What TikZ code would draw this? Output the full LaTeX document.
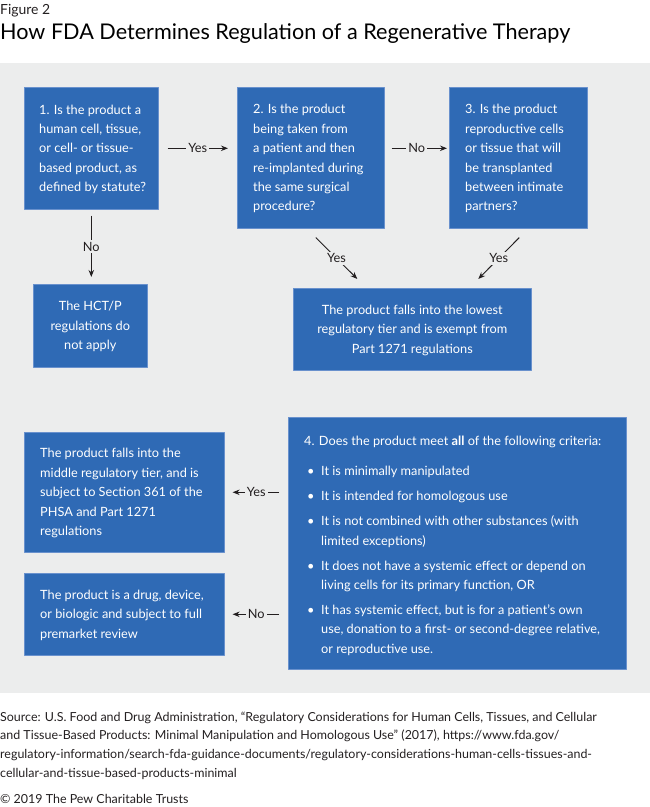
\documentclass[tikz,border=0pt]{standalone}
\usepackage{fontspec}
\setmainfont{Lato}
\usetikzlibrary{arrows.meta,calc}

\definecolor{panelgray}{RGB}{236,237,237}
\definecolor{boxblue}{RGB}{47,106,181}
\definecolor{boxedge}{RGB}{105,145,205}
\definecolor{inkgray}{RGB}{35,31,32}

\newcommand{\critbul}{\makebox[17bp][l]{\hspace{3bp}\textbullet}}
\newcommand{\critind}{\hspace*{17bp}}

\tikzset{
  qbox/.style={draw=boxedge, line width=0.6bp, fill=boxblue,
    anchor=north west, inner sep=0bp},
  boxtext/.style={text=white, inner sep=0bp, align=left, anchor=west,
    font=\fontsize{12.8}{19.5}\selectfont},
  ctrtext/.style={boxtext, align=center, anchor=center},
  edgelbl/.style={fill=panelgray, text=inkgray, inner sep=2bp,
    font=\fontsize{12.8}{15}\selectfont},
  edge/.style={draw=inkgray, line width=1bp, ->},
}

\begin{document}
\begin{tikzpicture}[>={Stealth[length=7bp,width=5.5bp]},line join=bevel]
  \useasboundingbox (0bp,0bp) rectangle (650bp,807bp);
%%
  % Title
  \node[anchor=base west, inner sep=0bp, text=inkgray, font=\fontsize{14}{16}\selectfont] (fig) at (0bp,792bp) {Figure 2};
  \node[anchor=base west, inner sep=0bp, text=black, font=\fontsize{21.7}{26}\selectfont] (title) at (0bp,767bp) {How FDA Determines Regulation of a Regenerative Therapy};
  % Panel
  \fill[panelgray] (0bp,114bp) rectangle (650bp,744bp);
  % Node: q1
  \node[qbox, minimum width=134bp, minimum height=122bp] (q1) at (24bp,720bp) {};
  \node[boxtext] (q1t) at ([xshift=15bp,yshift=-1bp]q1.west)
    {1. Is the product a\\human cell, tissue,\\or cell- or tissue-\\based product, as\\defined by statute?};
  % Node: q2
  \node[qbox, minimum width=147bp, minimum height=141bp] (q2) at (237bp,720bp) {};
  \node[boxtext] (q2t) at ([xshift=16bp,yshift=-1bp]q2.west)
    {2. Is the product\\being taken from\\a patient and then\\re-implanted during\\the same surgical\\procedure?};
  % Node: q3
  \node[qbox, minimum width=138bp, minimum height=141bp] (q3) at (449bp,720bp) {};
  \node[boxtext] (q3t) at ([xshift=16bp,yshift=-1bp]q3.west)
    {3. Is the product\\reproductive cells\\or tissue that will\\be transplanted\\between intimate\\partners?};
  % Node: hctp
  \node[qbox, minimum width=114bp, minimum height=83bp] (hctp) at (33bp,523bp) {};
  \node[ctrtext] (hctpt) at ([yshift=-1bp]hctp.center) {The HCT/P\\regulations do\\not apply};
  % Node: lowtier
  \node[qbox, minimum width=238bp, minimum height=82bp] (lowtier) at (293bp,519bp) {};
  \node[ctrtext] (lowtiert) at ([yshift=-1bp]lowtier.center)
    {The product falls into the lowest\\regulatory tier and is exempt from\\Part 1271 regulations};
  % Node: q4
  \node[qbox, minimum width=338bp, minimum height=252bp] (q4) at (288bp,390bp) {};
  \node[boxtext] (q4t) at ([xshift=16bp,yshift=-2.5bp]q4.west)
    {4. Does the product meet \textbf{all} of the following criteria:\\[11bp]
     \critbul It is minimally manipulated\\[5.5bp]
     \critbul It is intended for homologous use\\[5.5bp]
     \critbul It is not combined with other substances (with\\
     \critind limited exceptions)\\[5.5bp]
     \critbul It does not have a systemic effect or depend on\\
     \critind living cells for its primary function, OR\\[5.5bp]
     \critbul It has systemic effect, but is for a patient’s own\\
     \critind use, donation to a first- or second-degree relative,\\
     \critind or reproductive use.};
  % Node: midtier
  \node[qbox, minimum width=200bp, minimum height=120bp] (midtier) at (24bp,375bp) {};
  \node[boxtext] (midtiert) at ([xshift=16bp,yshift=-1bp]midtier.west)
    {The product falls into the\\middle regulatory tier, and is\\subject to Section 361 of the\\PHSA and Part 1271\\regulations};
  % Node: drug
  \node[qbox, minimum width=200bp, minimum height=82bp] (drug) at (24bp,234bp) {};
  \node[boxtext] (drugt) at ([xshift=16bp,yshift=-1bp]drug.west)
    {The product is a drug, device,\\or biologic and subject to full\\premarket review};
  % Edge: q1 -> q2
  \draw[edge, shorten <=9bp, shorten >=9bp] (q1.east) -- node[edgelbl] {Yes} (q1.east -| q2.west);
  % Edge: q2 -> q3
  \draw[edge, shorten <=7bp, shorten >=2bp] (q1.east -| q2.east) -- node[edgelbl] {No} (q1.east -| q3.west);
  % Edge: q1 -> hctp
  \draw[edge, shorten <=6bp, shorten >=7bp] (q1.south) -- node[edgelbl] {No} (q1.south |- hctp.north);
  % Edge: q2 -> lowtier
  \draw[edge] ([xshift=5bp,yshift=-9bp]q2.south) -- node[edgelbl] {Yes} ([xshift=-55bp,yshift=9bp]lowtier.north);
  % Edge: q3 -> lowtier
  \draw[edge] ([xshift=1bp,yshift=-9bp]q3.south) -- node[edgelbl] {Yes} ([xshift=66bp,yshift=9bp]lowtier.north);
  % Edge: q4 -> midtier
  \draw[edge, shorten <=9bp, shorten >=8bp] (midtier.east -| q4.west) -- node[edgelbl] {Yes} (midtier.east);
  % Edge: q4 -> drug
  \draw[edge, shorten <=9bp, shorten >=8bp] (drug.east -| q4.west) -- node[edgelbl] {No} (drug.east);
  % Source
  \node[anchor=base west, inner sep=0bp, text=inkgray, align=left, font=\fontsize{12.5}{18.7}\selectfont] (source) at (0bp,30bp)
    {Source: U.S. Food and Drug Administration, “Regulatory Considerations for Human Cells, Tissues, and Cellular\\
     and Tissue-Based Products: Minimal Manipulation and Homologous Use” (2017), https://www.fda.gov/\\
     regulatory-information/search-fda-guidance-documents/regulatory-considerations-human-cells-tissues-and-\\
     cellular-and-tissue-based-products-minimal};
  \node[anchor=base west, inner sep=0bp, text=inkgray, font=\fontsize{12.5}{15}\selectfont] (credit) at (0bp,4bp)
    {© 2019 The Pew Charitable Trusts};
%
\end{tikzpicture}
\end{document}
